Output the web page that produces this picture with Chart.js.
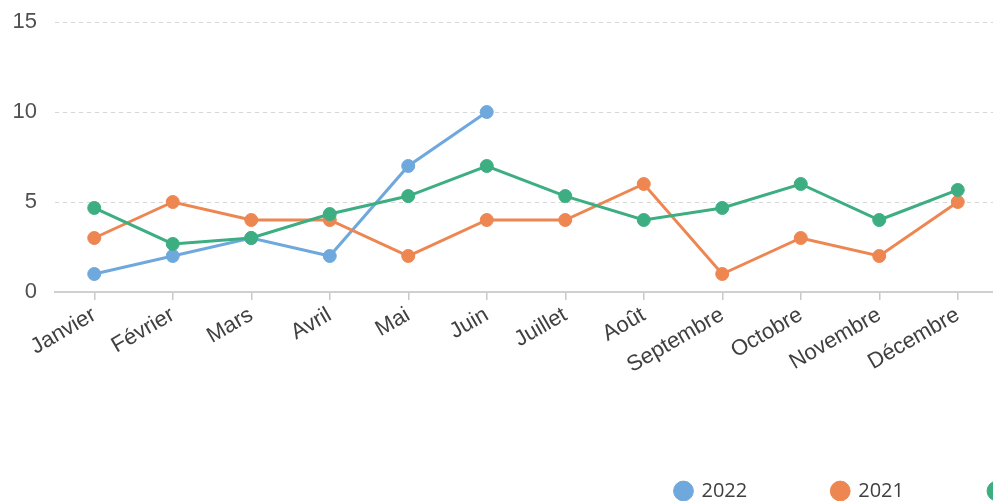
<!DOCTYPE html>
<html><head><meta charset="utf-8">
<script src="https://cdn.jsdelivr.net/npm/chart.js@4/dist/chart.umd.min.js"></script>
<style>
html,body{margin:0;padding:0;background:#fff;overflow:hidden;}
#wrap{position:relative;height:511px;}
</style></head><body>
<div id="wrap"><canvas id="c"></canvas></div>
<script>
const categories = ['Janvier','Février','Mars','Avril','Mai','Juin','Juillet','Août','Septembre','Octobre','Novembre','Décembre'];
const values2022 = [1,2,3,2,7,10,null,null,null,null,null,null];
const values2021 = [3,5,4,4,2,4,4,6,1,3,2,5];
const valuesMoyenne = [4.67,2.67,3,4.33,5.33,7,5.33,4,4.67,6,4,5.67];
const seriesNames = ['2022','2021','Moyenne'];
const yTicks = [0,5,10,15];

const BLUE = '#6fa8dc', ORANGE = '#ed8650', GREEN = '#3dae82';

// legend geometry (the legend runs off the right edge as in the reference)
const LEGEND_PAD = 85, BOX_W = 16, LEGEND_FS = 20;
const mctx = document.createElement('canvas').getContext('2d');
mctx.font = LEGEND_FS + 'px "Open Sans"';
let lineW = 0;
seriesNames.forEach(n => { lineW += BOX_W + LEGEND_FS/2 + mctx.measureText(n).width + LEGEND_PAD; });
const W = Math.round(675 + lineW);
const PLOT_RIGHT = 997;
document.getElementById('wrap').style.width = W + 'px';

function ds(label, data, color, order){
  return {label, data, borderColor: color, backgroundColor: color,
    pointBackgroundColor: color, pointBorderColor: color, pointBorderWidth: 1,
    pointRadius: 6.5, pointHoverRadius: 6.5, borderWidth: 3, tension: 0, order, spanGaps: false};
}

new Chart(document.getElementById('c'), {
  type: 'line',
  data: {
    labels: categories,
    datasets: [
      ds(seriesNames[0], values2022, BLUE, 2),
      ds(seriesNames[1], values2021, ORANGE, 1),
      ds(seriesNames[2], valuesMoyenne, GREEN, 0)
    ]
  },
  options: {
    responsive: true, maintainAspectRatio: false, animation: false,
    layout: {padding: {left: 0, right: 0, top: 22, bottom: 0}},
    plugins: {
      tooltip: {enabled: false},
      legend: {
        position: 'bottom', align: 'end',
        labels: {usePointStyle: true, pointStyle: 'circle', boxWidth: BOX_W, boxHeight: 14,
          padding: LEGEND_PAD, color: '#404040', font: {family: '"Open Sans"', size: LEGEND_FS},
          sort: (a, b) => a.datasetIndex - b.datasetIndex}
      }
    },
    scales: {
      x: {
        offset: true,
        grid: {display: true, drawOnChartArea: false, drawTicks: true, tickLength: 8, color: '#c8c8c8', lineWidth: 1.5, offset: false},
        border: {display: true, color: '#cfcfcf', width: 2},
        ticks: {autoSkip: false, minRotation: 30, maxRotation: 30, padding: 2, color: '#404040',
          font: {family: '"Liberation Sans", Arial, sans-serif', size: 22}},
        afterFit: s => { s.height = 104; }
      },
      y: {
        position: 'left', min: 0, max: 15,
        afterBuildTicks: s => { s.ticks = yTicks.map(v => ({value: v})); },
        grid: {drawTicks: true, tickLength: 14, tickColor: 'rgba(0,0,0,0)',
          color: c => (c.tick && c.tick.value === 0) ? 'rgba(0,0,0,0)' : '#d6d6d6', lineWidth: 1},
        border: {display: false, dash: [4, 4]},
        ticks: {padding: 4, color: '#505050', font: {family: '"Liberation Sans", Arial, sans-serif', size: 22}},
        afterFit: s => { s.width = 55; }
      },
      yR: {
        type: 'linear', position: 'right', display: true,
        grid: {display: false}, border: {display: false}, ticks: {display: false},
        afterFit: s => { s.width = W - PLOT_RIGHT; }
      }
    }
  }
});
</script>
</body></html>
